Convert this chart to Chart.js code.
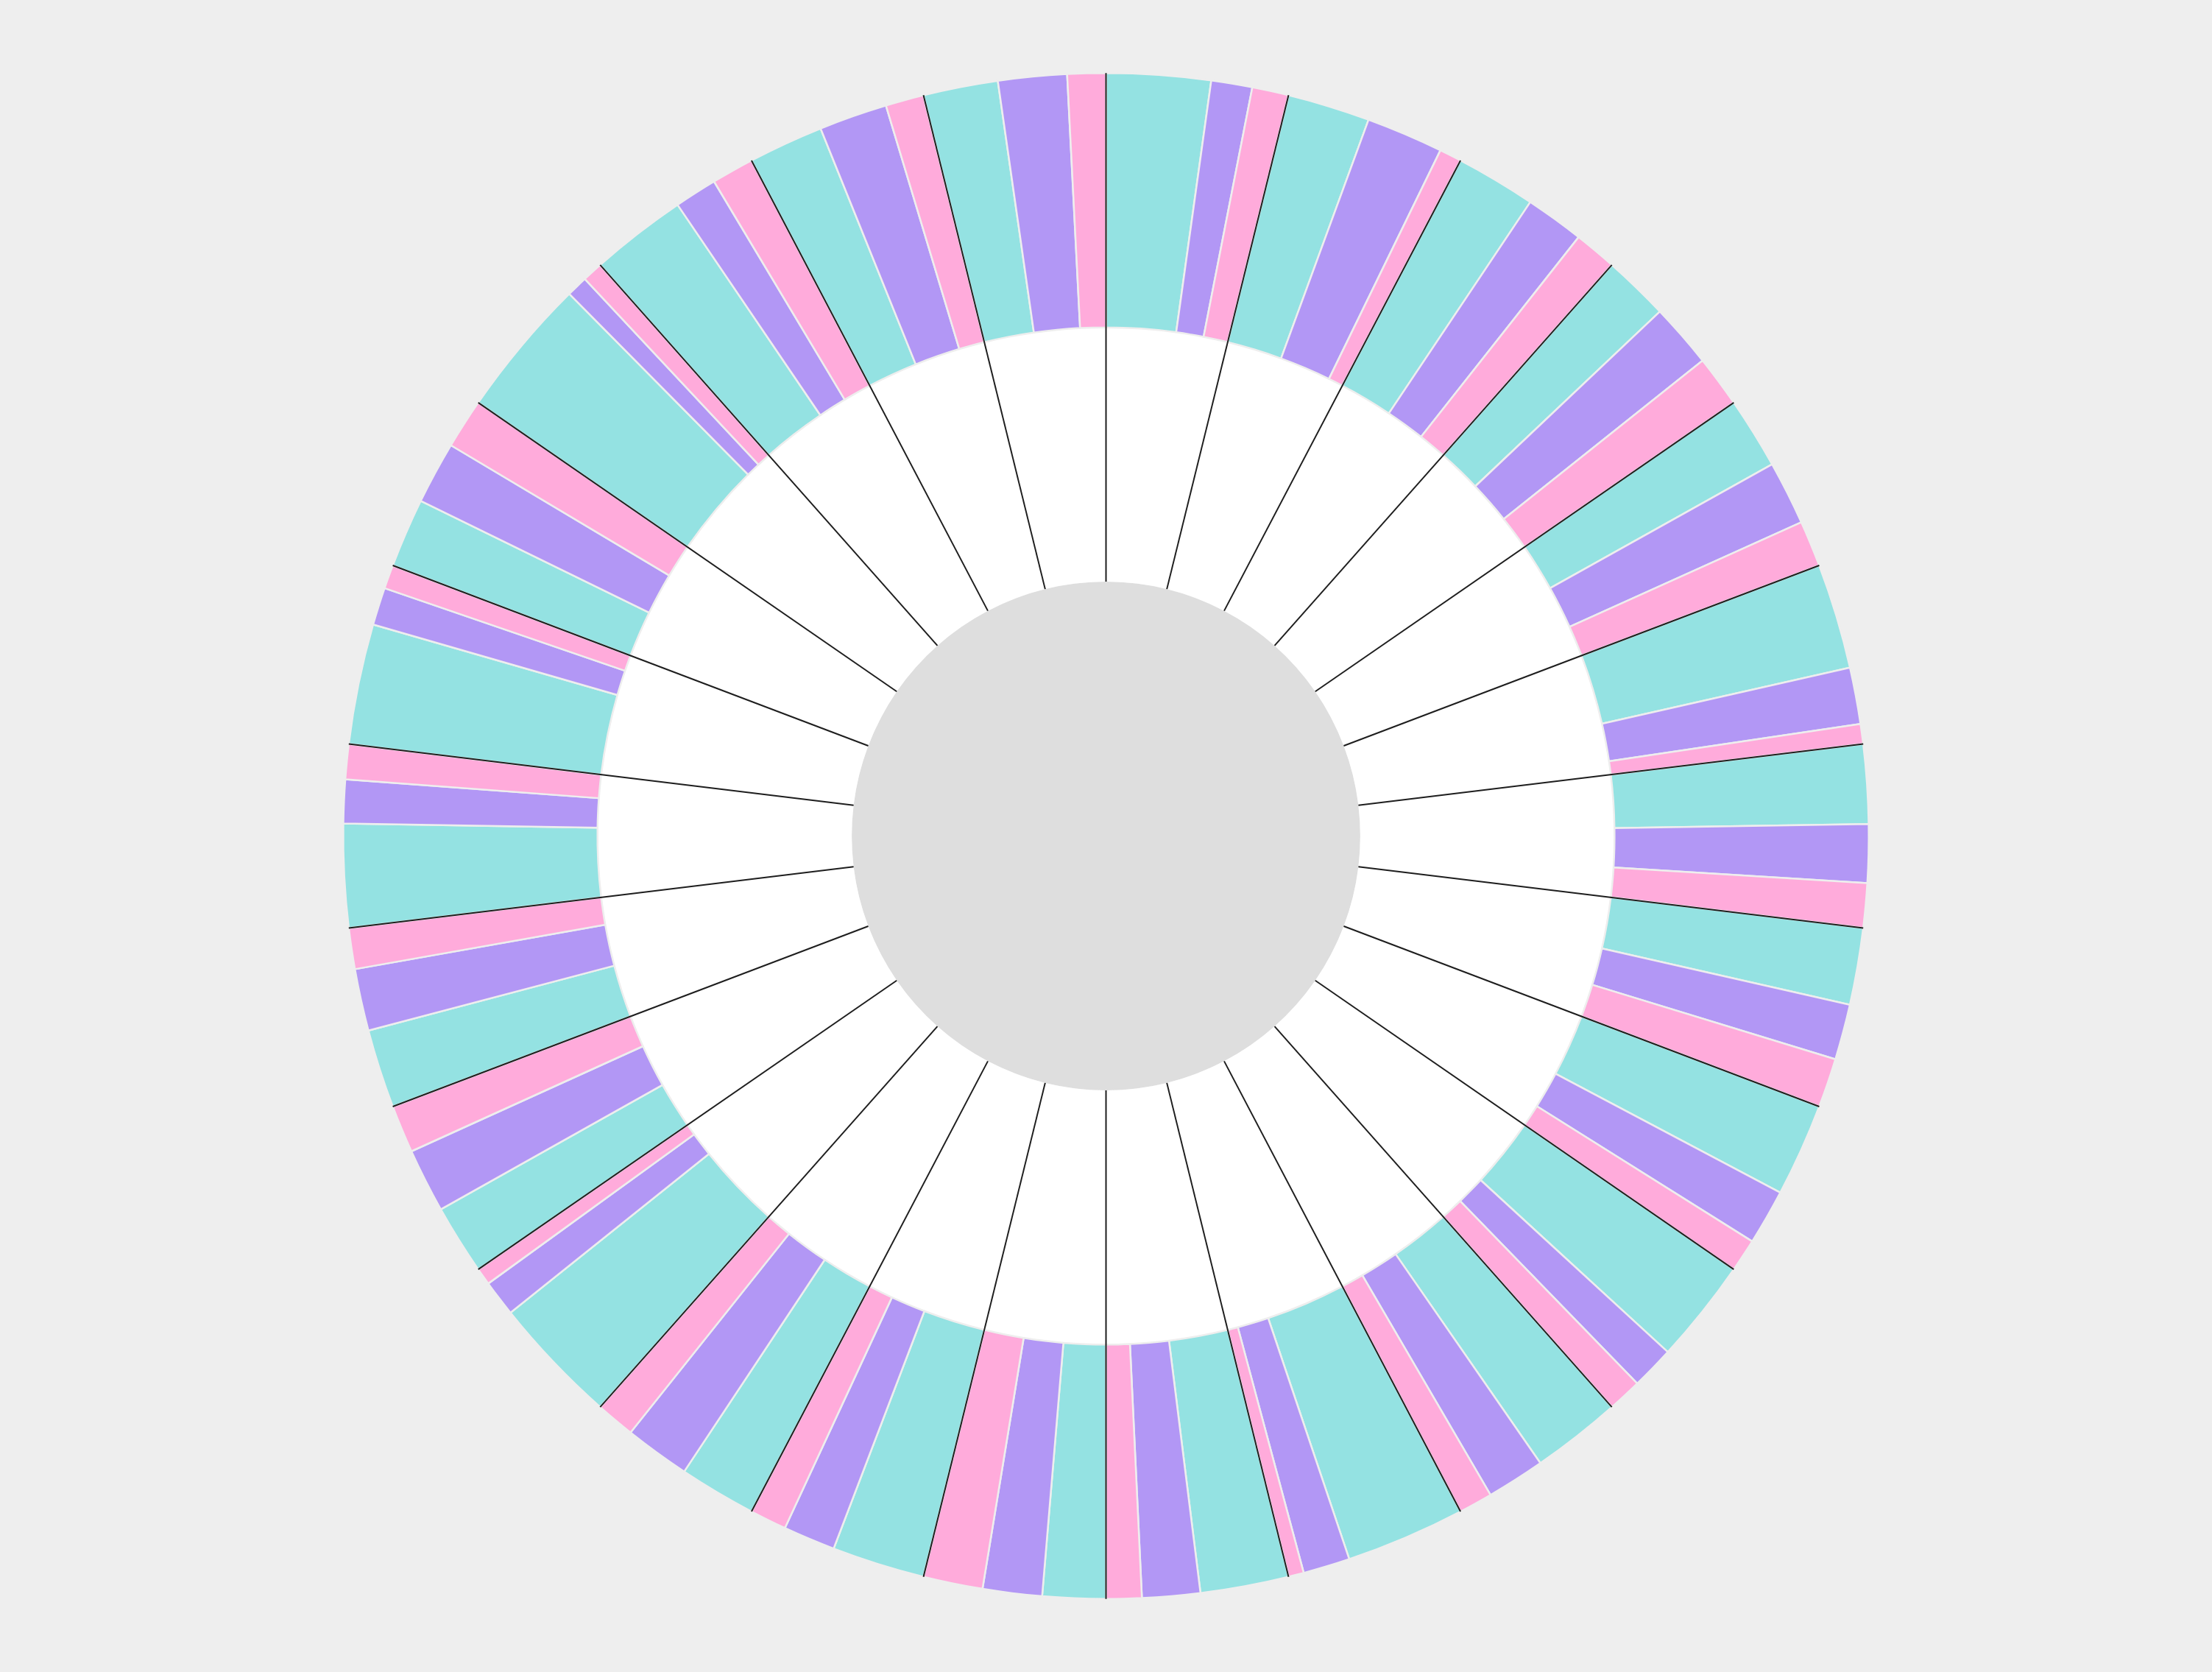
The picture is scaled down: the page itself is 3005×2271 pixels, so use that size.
<!DOCTYPE html>
<html>
<head>
<meta charset="utf-8">
<script src="https://cdn.jsdelivr.net/npm/chart.js@4/dist/chart.umd.min.js"></script>
<style>
  html, body { margin: 0; padding: 0; background: #eeeeee; }
  #wrap { width: 3005px; height: 2271px; position: relative; }
</style>
</head>
<body>
<div id="wrap"><canvas id="ring"></canvas></div>
<script>
// 26 equal sectors, each split into three parts (percent of the sector)
const sectors = Array.from({ length: 26 }, (_, i) => "S" + (i + 1));

const tealPct = [
  57.3, 45.4, 44.1, 36.3, 39.4, 57.9, 43.5, 42.3, 51.3, 57.4, 49.3, 65.7, 48.6,
  34.7, 51.1, 42.5, 70.7, 38.4, 43.3, 56.8, 66.2, 38.2, 77.0, 53.2, 41.3, 41.1,
];
const purplePct = [
  22.6, 42.4, 32.4, 35.3, 35.2, 31.1, 32.1, 30.6, 30.5, 23.8, 32.1, 25.8, 31.9,
  32.6, 28.7, 36.0, 19.9, 35.3, 34.1, 24.0, 20.7, 34.3, 11.7, 23.5, 37.6, 37.8,
];
const pinkPct = [
  20.1, 12.2, 23.5, 28.4, 25.4, 11.0, 24.4, 27.1, 18.2, 18.8, 18.6, 8.5, 19.5,
  32.7, 20.2, 21.5, 9.4, 26.3, 22.6, 19.2, 13.1, 27.5, 11.3, 23.3, 21.1, 21.1,
];

const TEAL = "#94e2e2";
const PURPLE = "#b297f5";
const PINK = "#ffabdb";
const BG = "#eeeeee";

// outer ring: teal / purple / pink per sector, clockwise
const outerVals = [];
const outerCols = [];
sectors.forEach((s, i) => {
  outerVals.push(tealPct[i], purplePct[i], pinkPct[i]);
  outerCols.push(TEAL, PURPLE, PINK);
});

/** Black sector dividers, from the grey core out to the rim. */
const dividerPlugin = {
  id: "dividers",
  afterDatasetsDraw(chart) {
    const mid = chart.getDatasetMeta(1).data;
    const rim = chart.getDatasetMeta(0).data[0];
    if (!mid.length || !rim) return;
    const ctx = chart.ctx;
    ctx.save();
    ctx.strokeStyle = "#1e1e1e";
    ctx.lineWidth = 2;
    mid.forEach(arc => {
      const a = arc.startAngle;
      const c = Math.cos(a), s = Math.sin(a);
      ctx.beginPath();
      ctx.moveTo(arc.x + c * arc.innerRadius, arc.y + s * arc.innerRadius);
      ctx.lineTo(arc.x + c * rim.outerRadius, arc.y + s * rim.outerRadius);
      ctx.stroke();
    });
    ctx.restore();
  },
};

new Chart(document.getElementById("ring"), {
  type: "doughnut",
  data: {
    labels: outerVals.map((_, i) => sectors[Math.floor(i / 3)]),
    datasets: [
      {
        data: outerVals,
        backgroundColor: outerCols,
        borderColor: BG,
        borderWidth: 2.5,
        weight: 1,
      },
      {
        data: sectors.map(() => 1),
        backgroundColor: "#ffffff",
        borderWidth: 0,
        weight: 1,
      },
      {
        data: [1],
        backgroundColor: "#dedede",
        borderWidth: 0,
        weight: 1,
      },
    ],
  },
  options: {
    responsive: true,
    maintainAspectRatio: false,
    animation: false,
    cutout: 0,
    layout: { padding: 98 },
    plugins: {
      legend: { display: false },
      tooltip: { enabled: false },
    },
  },
  plugins: [dividerPlugin],
});
</script>
</body>
</html>
